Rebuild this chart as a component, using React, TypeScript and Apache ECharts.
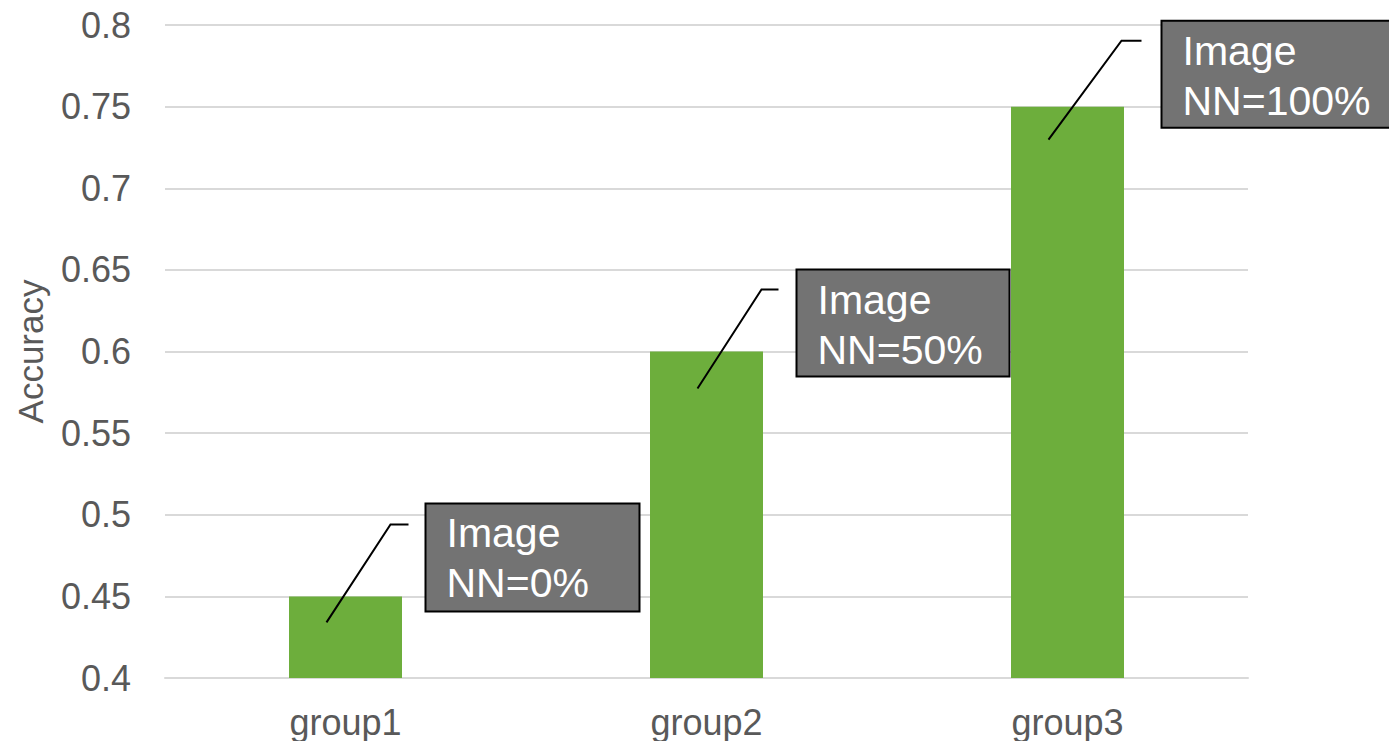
import React, { useEffect, useRef } from "react";
import * as echarts from "echarts";

// ---- data ----
const categories = ["group1", "group2", "group3"];
const accuracy = [0.45, 0.6, 0.75];
const annotationTexts = ["Image\nNN=0%", "Image\nNN=50%", "Image\nNN=100%"];
const yMin = 0.4;
const yMax = 0.8;
const yInterval = 0.05;
const yAxisName = "Accuracy";

// ---- annotation layout (offsets from each bar's top-center, px) ----
const boxLayout = [
  { dx: 80, dy: -93, w: 214, h: 108 },
  { dx: 90, dy: -82, w: 213, h: 107 },
  { dx: 94, dy: -86, w: 240, h: 107 },
];
const leaderLayout = [
  [[-19, 26], [45, -72], [63, -72]],
  [[-9, 37], [55, -62], [72, -62]],
  [[-19, 33], [54, -66], [74, -66]],
];

const FONT = '"Liberation Sans", Arial, Helvetica, sans-serif';
const TEXT_COLOR = "#595959";
const BAR_COLOR = "#6DAE3C";

export default function App() {
  const ref = useRef<HTMLDivElement>(null);

  useEffect(() => {
    if (!ref.current) return;
    const chart = echarts.init(ref.current, null, { renderer: "svg" });
    chart.setOption({
      animation: false,
      backgroundColor: "#ffffff",
      textStyle: { fontFamily: FONT },
      grid: { left: 165, right: 141, top: 25, bottom: 63, containLabel: false },
      xAxis: {
        type: "category",
        data: categories,
        axisLine: { show: true, lineStyle: { color: "#D9D9D9", width: 2 } },
        axisTick: { show: false },
        axisLabel: { color: TEXT_COLOR, fontSize: 36, fontFamily: FONT, margin: 26 },
      },
      yAxis: {
        type: "value",
        min: yMin,
        max: yMax,
        interval: yInterval,
        name: yAxisName,
        nameLocation: "middle",
        nameRotate: 90,
        nameGap: 117,
        nameTextStyle: { color: TEXT_COLOR, fontSize: 35, fontFamily: FONT },
        axisLine: { show: false },
        axisTick: { show: false },
        axisLabel: {
          color: TEXT_COLOR,
          fontSize: 36,
          fontFamily: FONT,
          margin: 34,
          formatter: (v: number) => String(Math.round(v * 100) / 100),
        },
        splitLine: { show: true, lineStyle: { color: "#D9D9D9", width: 2 } },
      },
      series: [
        {
          type: "bar",
          data: accuracy,
          barWidth: 113,
          itemStyle: { color: BAR_COLOR },
        },
      ],
    });

    const graphic: any[] = [];
    categories.forEach((_, i) => {
      const p = chart.convertToPixel({ gridIndex: 0 }, [i, accuracy[i]]) as number[];
      const cx = p[0];
      const ty = p[1];
      const b = boxLayout[i];
      const bx = cx + b.dx;
      const by = ty + b.dy;
      graphic.push({
        type: "polyline",
        z: 100,
        shape: { points: leaderLayout[i].map(([ox, oy]) => [cx + ox, ty + oy]) },
        style: { stroke: "#000000", lineWidth: 2, fill: null },
      });
      graphic.push({
        type: "rect",
        z: 100,
        shape: { x: bx, y: by, width: b.w, height: b.h },
        style: { fill: "#737373", stroke: "#000000", lineWidth: 2 },
      });
      graphic.push({
        type: "text",
        z: 101,
        style: {
          text: annotationTexts[i],
          x: bx + 21,
          y: by + 5,
          fill: "#ffffff",
          fontSize: 41,
          fontFamily: FONT,
          lineHeight: 50,
          verticalAlign: "top",
          align: "left",
        },
      });
    });
    chart.setOption({ graphic });

    return () => chart.dispose();
  }, []);

  return (
    <div
      ref={ref}
      style={{ position: "fixed", left: 0, top: 0, width: 1389, height: 741 }}
    />
  );
}
